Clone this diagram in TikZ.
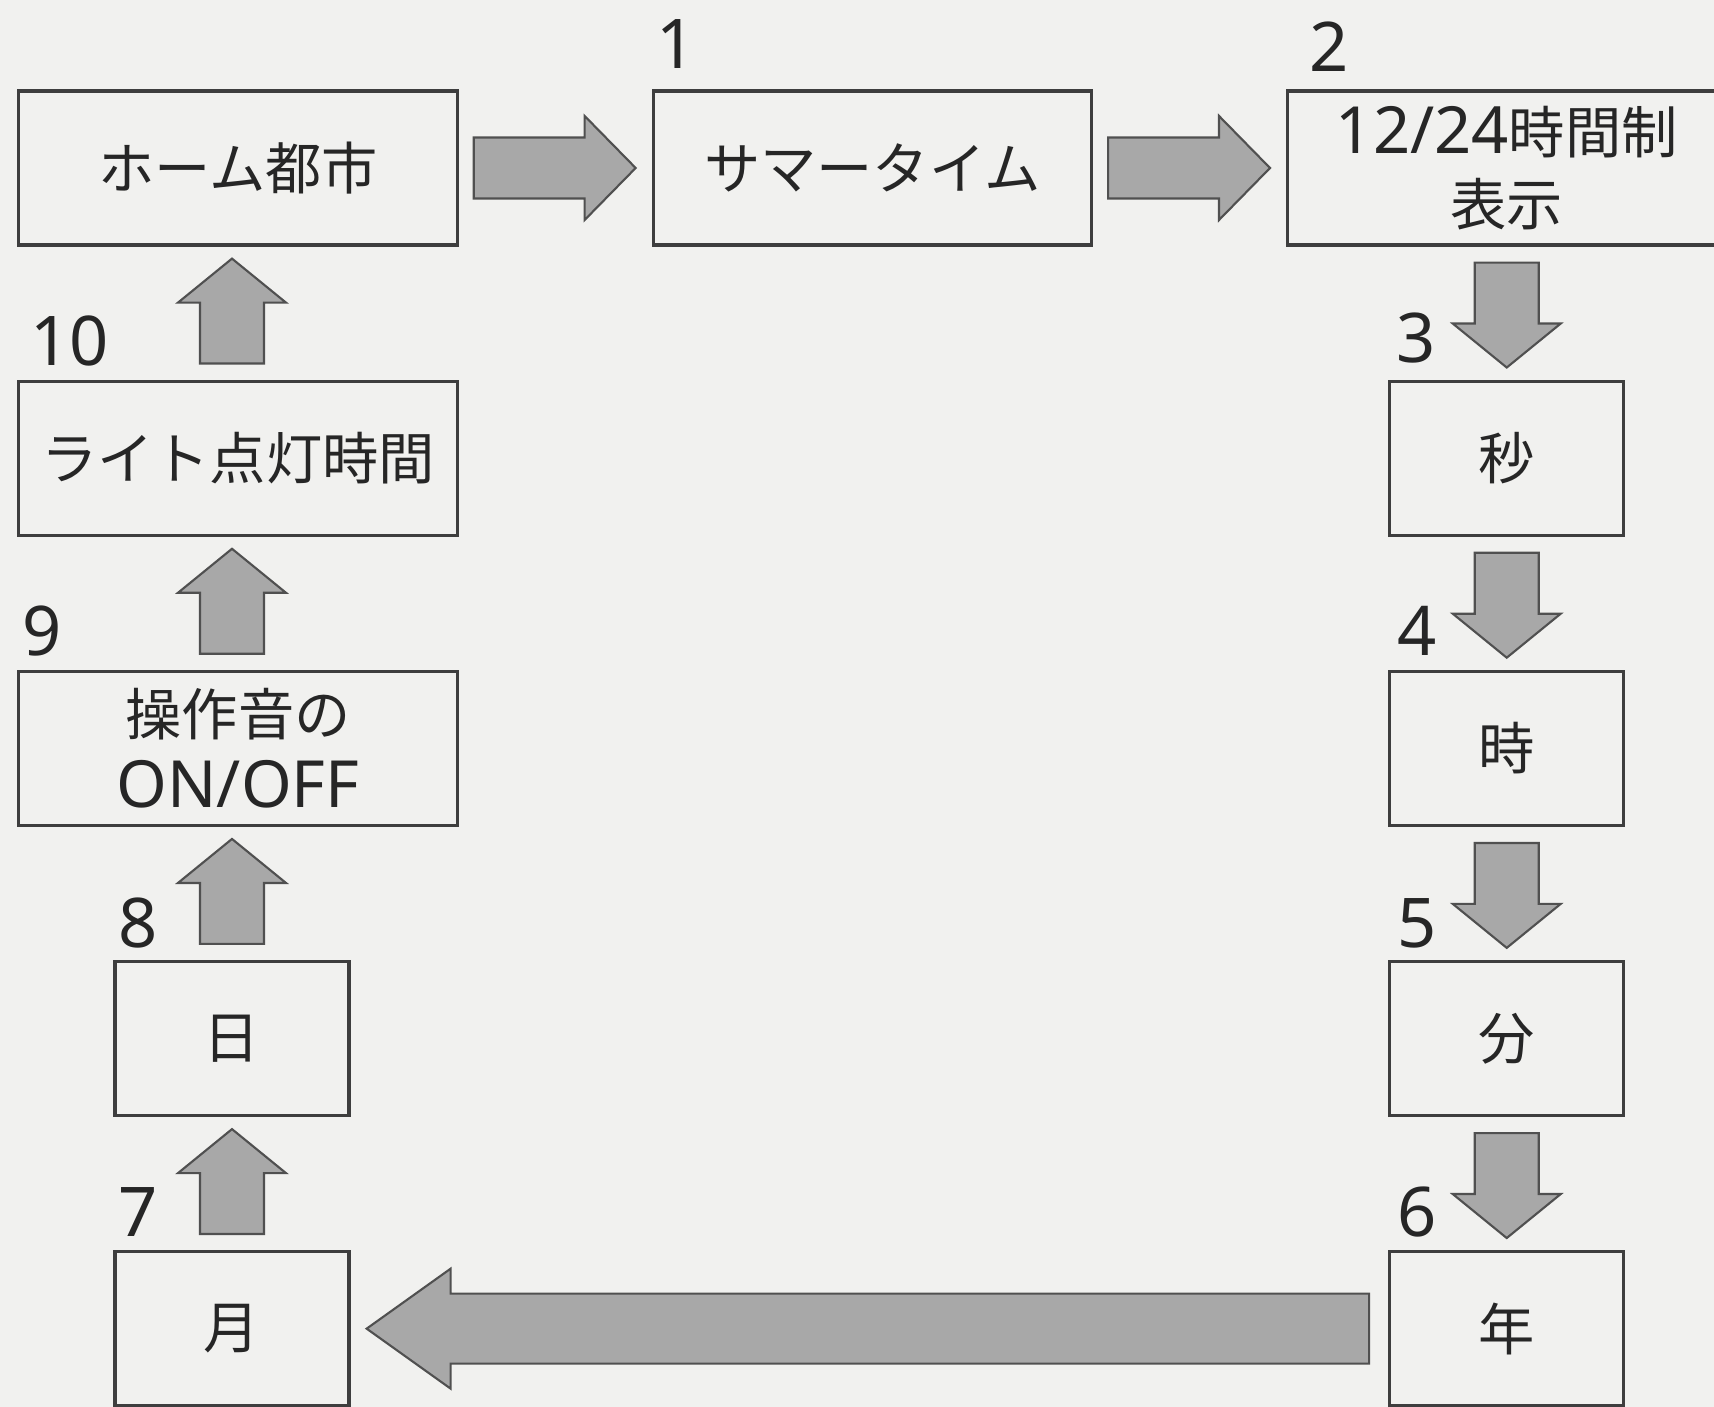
\documentclass[tikz,border=0pt]{standalone}
\usepackage{fontspec}
\setmainfont{Noto Sans}
\newfontfamily\jpfont{Noto Sans CJK JP}
\usetikzlibrary{positioning, calc}
\definecolor{paper}{RGB}{241,241,239}
\definecolor{boxline}{RGB}{62,62,62}
\definecolor{inkgray}{RGB}{38,38,38}
\definecolor{arrowfill}{RGB}{168,168,168}
\definecolor{arrowline}{RGB}{80,80,80}
\newcommand{\boxnum}[1]{{\rmfamily\fontsize{18.5}{20.5}\selectfont #1}}

\begin{document}
\begin{tikzpicture}
    [
        x=0.01cm, y=-0.01cm,
        node distance=2.9cm and 6.34cm, on grid,
        wide_box/.style={rectangle, draw=boxline, line width=0.9pt, minimum width=4.38cm, minimum height=1.54cm, inner sep=0pt, align=center, text=inkgray, font=\jpfont\fontsize{16}{20.5}\selectfont},
        narrow_box/.style={wide_box, minimum width=2.34cm},
        step_num/.style={inner sep=0pt, text=inkgray, font=\rmfamily\fontsize{19.5}{19.5}\selectfont},
        blk/.style={fill=arrowfill, draw=arrowline, line width=0.6pt},
        right_blk/.style n args={3}{blk, to path={
            ($(\tikztostart.east)+(15,-#1)$) -- ($(\tikztotarget.west |- \tikztostart.east)+(-16-#3,-#1)$)
            -- ($(\tikztotarget.west |- \tikztostart.east)+(-16-#3,-#2)$) -- ($(\tikztotarget.west |- \tikztostart.east)+(-16,0)$)
            -- ($(\tikztotarget.west |- \tikztostart.east)+(-16-#3,#2)$) -- ($(\tikztotarget.west |- \tikztostart.east)+(-16-#3,#1)$)
            -- ($(\tikztostart.east)+(15,#1)$) -- cycle}},
        left_blk/.style n args={3}{blk, to path={
            ($(\tikztostart.west)+(-19,-#1)$) -- ($(\tikztotarget.east |- \tikztostart.west)+(16+#3,-#1)$)
            -- ($(\tikztotarget.east |- \tikztostart.west)+(16+#3,-#2)$) -- ($(\tikztotarget.east |- \tikztostart.west)+(16,0)$)
            -- ($(\tikztotarget.east |- \tikztostart.west)+(16+#3,#2)$) -- ($(\tikztotarget.east |- \tikztostart.west)+(16+#3,#1)$)
            -- ($(\tikztostart.west)+(-19,#1)$) -- cycle}},
        down_blk/.style n args={3}{blk, to path={
            ($(\tikztostart.south)+(-#1,16)$) -- ($(\tikztostart.south |- \tikztotarget.north)+(-#1,-12-#3)$)
            -- ($(\tikztostart.south |- \tikztotarget.north)+(-#2,-12-#3)$) -- ($(\tikztostart.south |- \tikztotarget.north)+(0,-12)$)
            -- ($(\tikztostart.south |- \tikztotarget.north)+(#2,-12-#3)$) -- ($(\tikztostart.south |- \tikztotarget.north)+(#1,-12-#3)$)
            -- ($(\tikztostart.south)+(#1,16)$) -- cycle}},
        up_blk/.style n args={4}{blk, to path={
            ($(\tikztostart.north)+(#4-#1,-16)$) -- ($(\tikztostart.north |- \tikztotarget.south)+(#4-#1,12+#3)$)
            -- ($(\tikztostart.north |- \tikztotarget.south)+(#4-#2,12+#3)$) -- ($(\tikztostart.north |- \tikztotarget.south)+(#4,12)$)
            -- ($(\tikztostart.north |- \tikztotarget.south)+(#4+#2,12+#3)$) -- ($(\tikztostart.north |- \tikztotarget.south)+(#4+#1,12+#3)$)
            -- ($(\tikztostart.north)+(#4+#1,-16)$) -- cycle}},
    ]
        \useasboundingbox (0,0) rectangle (1714,1407);
        \clip (0,0) rectangle (1714,1407);
        \fill[paper] (0,0) rectangle (1714,1407);
        \node[wide_box] (home) at (238,168) {ホーム都市};
        \node[wide_box] (summer) [right = of home] {サマータイム};
        \node[wide_box] (h1224) [right = of summer] {\boxnum{12/24}時間制\\表示};
        \node[narrow_box] (sec) [below = of h1224] {秒};
        \node[narrow_box] (hour) [below = of sec] {時};
        \node[narrow_box] (minute) [below = of hour] {分};
        \node[narrow_box] (year) [below = of minute] {年};
        \node[wide_box] (light) [below = of home] {ライト点灯時間};
        \node[wide_box] (sound) [below = of light] {操作音の\\\boxnum{ON/OFF}};
        \node[narrow_box] (day) [below = of sound, xshift=-0.06cm] {日};
        \node[narrow_box] (month) [below = of day] {月};
        \node[step_num] (n1) at ($(summer.north west)+(24,-45)$) {1};
        \node[step_num] (n2) at ($(h1224.north west)+(43,-43)$) {2};
        \node[step_num] (n3) at ($(sec.north west)+(28,-42)$) {3};
        \node[step_num] (n4) at ($(hour.north west)+(29,-39)$) {4};
        \node[step_num] (n5) at ($(minute.north west)+(29,-37)$) {5};
        \node[step_num] (n6) at ($(year.north west)+(29,-38)$) {6};
        \node[step_num] (n7) at ($(month.north west)+(25,-38)$) {7};
        \node[step_num] (n8) at ($(day.north west)+(25,-37)$) {8};
        \node[step_num] (n9) at ($(sound.north west)+(25,-39)$) {9};
        \node[step_num] (n10) at ($(light.north west)+(52,-39)$) {10};
        \draw[right_blk={30.5}{52}{51}] (home) to (summer);
        \draw[right_blk={30.5}{52}{51}] (summer) to (h1224);
        \draw[down_blk={32}{54}{44}] (h1224) to (sec);
        \draw[down_blk={32}{54}{44}] (sec) to (hour);
        \draw[down_blk={32}{54}{44}] (hour) to (minute);
        \draw[down_blk={32}{54}{44}] (minute) to (year);
        \draw[left_blk={35}{60}{84}] (year) to (month);
        \draw[up_blk={32}{54}{44}{0}] (month) to (day);
        \draw[up_blk={32}{54}{44}{0}] (day) to (sound);
        \draw[up_blk={32}{54}{44}{-6}] (sound) to (light);
        \draw[up_blk={32}{54}{44}{-6}] (light) to (home);
    \end{tikzpicture}
\end{document}
